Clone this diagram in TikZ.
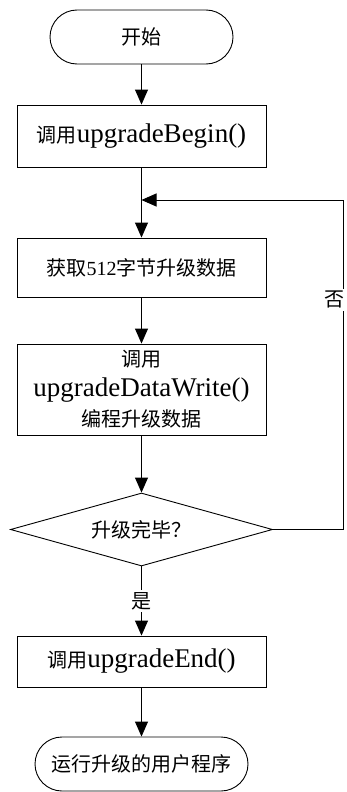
\documentclass[tikz,border=0pt]{standalone}
\usepackage{fontspec}
\setmainfont{Liberation Serif}
\newfontfamily\cjk{Noto Sans CJK SC}
\usetikzlibrary{arrows.meta,shapes.geometric}
\newcommand\zh[1]{{\cjk\fontsize{20}{24}\selectfont #1}}
\newcommand\lt[1]{{\fontsize{27}{30}\selectfont #1}}
\begin{document}
\begin{tikzpicture}[x=1pt,y=-1pt,
  line width=0.9pt,
  >={Triangle[length=15pt,width=13pt]},
  term/.style={draw, rectangle, rounded corners=27pt, inner sep=0pt, minimum height=54pt},
  proc/.style={draw, rectangle, inner sep=0pt, minimum width=249pt, align=center},
  dec/.style={draw, diamond, aspect=3.6, inner sep=0pt, minimum width=262pt, minimum height=73pt},
  lbl/.style={fill=white, inner sep=2.5pt}
]
\useasboundingbox (0,0) rectangle (346,792);
\node[term, minimum width=183pt] (start) at (141.5,37) {\zh{开始}};
\node[proc, minimum height=62pt] (b1) at (141.5,136) {\zh{调用}\lt{upgradeBegin()}};
\node[proc, minimum height=59pt] (b2) at (141.5,267.5) {\zh{获取\fontspec{Liberation Serif}512\cjk 字节升级数据}};
\node[proc, minimum height=91pt, font=\fontsize{27}{30}\selectfont] (b3) at (141.5,389.5)
  {\zh{调用}\\ upgradeDataWrite()\\ \zh{编程升级数据}};
\node[dec] (dia) at (141.5,529.5) {\zh{升级完毕？}};
\node[proc, minimum height=51pt] (b4) at (141.5,661.5) {\zh{调用}\lt{upgradeEnd()}};
\node[term, minimum width=213pt] (end) at (141.5,764) {\zh{运行升级的用户程序}};
\coordinate (join) at (141.5,200);
\coordinate (rb) at (343,529.5);
\coordinate (rt) at (343,200);
\draw[->] (start) -- (b1);
\draw[->] (b1) -- (b2);
\draw[->] (b2) -- (b3);
\draw[->] (b3) -- (dia);
\draw[->] (dia) -- node[lbl] {\zh{是}} (b4);
\draw[->] (b4) -- (end);
\draw[->] (dia.east) -- (rb) -- node[lbl, pos=0.697, xshift=-9pt, inner xsep=1pt] {\zh{否}} (rt) -- (join);
\end{tikzpicture}
\end{document}
